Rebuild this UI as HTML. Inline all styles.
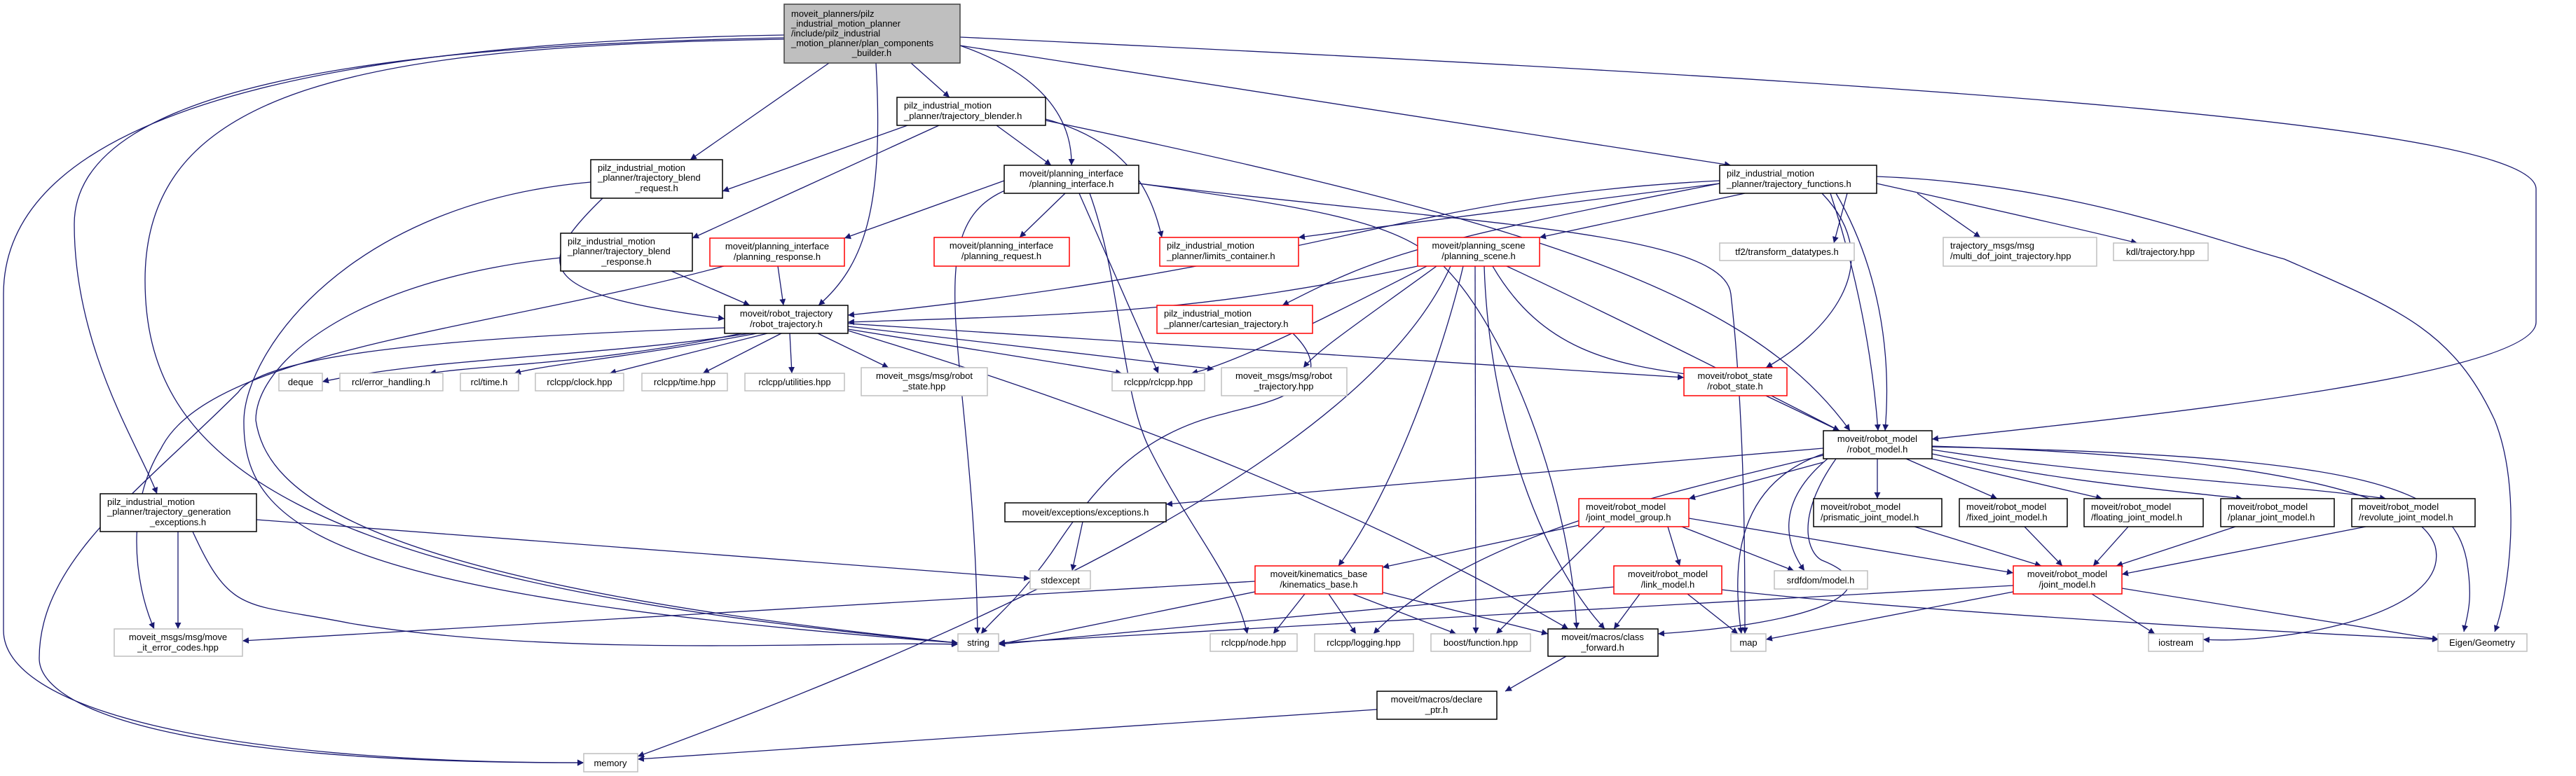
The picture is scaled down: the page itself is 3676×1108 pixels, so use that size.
<!DOCTYPE html>
<html><head><meta charset="utf-8"><style>
html,body{margin:0;padding:0;background:#fff;}
svg{display:block;}
text{font-family:"Liberation Sans",sans-serif;font-size:13px;fill:#000;}
.e{fill:none;stroke:#191970;stroke-width:1.3;}
.nb{fill:#fff;stroke:#000;stroke-width:1.5;}
.nr{fill:#fff;stroke:#ff0000;stroke-width:1.5;}
.ng{fill:#fff;stroke:#bfbfbf;stroke-width:1.5;}
.nroot{fill:#bfbfbf;stroke:#404040;stroke-width:1.5;}
</style></head><body>
<svg width="3676" height="1108" viewBox="0 0 3676 1108" xmlns="http://www.w3.org/2000/svg">
<defs><marker id="a" viewBox="0 0 10 10" refX="10" refY="5" markerWidth="9" markerHeight="9" markerUnits="userSpaceOnUse" orient="auto"><path d="M0,0 L10,5 L0,10 z" fill="#191970"/></marker></defs>
<g class="e" marker-end="url(#a)">
<path d="M1119,50 C500,60 5,150 5,420 L5,900 C5,1010 300,1089 833,1089"/>
<path d="M1119,54 C600,64 106,110 106,320 C106,500 200,640 224,705"/>
<path d="M1119,56 C500,66 207,130 207,400 C207,650 400,830 1367,918"/>
<path d="M1183,90 L985,228"/>
<path d="M1250,90 C1262,300 1232,380 1168,436"/>
<path d="M1300,90 L1355,139"/>
<path d="M1370,65 C1500,110 1530,180 1529,236"/>
<path d="M1370,65 L2470,236"/>
<path d="M1370,53 C2800,120 3619,180 3619,270 L3619,460 C3619,540 3000,600 2757,627"/>
<path d="M1295,179 L1031,273"/>
<path d="M1340,179 L988,340"/>
<path d="M1422,179 L1500,236"/>
<path d="M1492,170 C1600,200 1640,260 1658,339"/>
<path d="M1492,172 C2200,320 2500,420 2640,615"/>
<path d="M860,283 C760,380 760,420 1034,455"/>
<path d="M843,260 C500,290 350,500 348,600 C346,760 480,850 1367,918"/>
<path d="M958,387 L1070,436"/>
<path d="M800,368 C500,400 365,520 365,600 C380,700 500,830 1367,918"/>
<path d="M1033,380 C700,470 300,500 230,640 C180,720 190,830 220,898"/>
<path d="M1110,380 L1118,436"/>
<path d="M1433,258 L1205,340"/>
<path d="M1520,276 L1455,339"/>
<path d="M1444,268 C1300,320 1390,500 1395,905"/>
<path d="M1540,276 L1653,533"/>
<path d="M1555,276 C1600,400 1600,560 1640,640 C1700,760 1760,820 1780,905"/>
<path d="M1625,262 C2100,320 2460,330 2470,420 C2490,600 2490,800 2490,905"/>
<path d="M1625,262 C1900,300 2000,320 2060,380 C2150,470 2240,700 2250,898"/>
<path d="M2454,262 L1853,339"/>
<path d="M2454,258 C2000,280 1900,380 1210,450"/>
<path d="M2454,262 C2000,350 1960,370 1830,436"/>
<path d="M2490,276 L2197,339"/>
<path d="M2636,276 L2617,347"/>
<path d="M2736,276 L2826,339"/>
<path d="M2678,262 C2850,300 2980,330 3050,347"/>
<path d="M2678,252 C2950,262 3150,340 3260,370 C3420,440 3500,470 3560,600 C3600,700 3580,850 3560,902"/>
<path d="M2600,276 C2700,380 2600,480 2520,525"/>
<path d="M2620,276 C2680,380 2700,500 2690,615"/>
<path d="M2612,276 C2640,360 2670,480 2680,615"/>
<path d="M2023,380 C1700,450 1500,450 1210,460"/>
<path d="M2036,380 C1900,450 1760,520 1700,533"/>
<path d="M2050,380 C1940,460 1880,500 1860,525"/>
<path d="M2088,380 C2060,500 1990,700 1910,808"/>
<path d="M2105,380 L2106,905"/>
<path d="M2118,380 C2125,600 2200,800 2290,898"/>
<path d="M2130,380 C2200,500 2300,520 2420,536"/>
<path d="M2150,380 C2300,450 2500,550 2625,615"/>
<path d="M2070,380 C1950,650 1400,900 910,1080"/>
<path d="M1845,476 C1930,560 1780,580 1750,590 C1620,620 1560,700 1500,790 C1450,860 1420,880 1400,905"/>
<path d="M1070,476 C850,510 620,510 460,545"/>
<path d="M1058,476 C850,520 700,520 613,533"/>
<path d="M1080,476 C900,510 780,520 734,533"/>
<path d="M1095,476 L870,533"/>
<path d="M1115,476 L1003,533"/>
<path d="M1127,476 L1130,533"/>
<path d="M1167,476 L1268,525"/>
<path d="M1210,470 L1601,533"/>
<path d="M1210,466 L1732,527"/>
<path d="M1210,462 L2403,539"/>
<path d="M1210,472 C1500,560 1900,700 2238,898"/>
<path d="M1034,468 C700,480 380,500 340,560 C200,700 56,800 56,940 C56,1000 200,1090 833,1089"/>
<path d="M2520,565 L2625,615"/>
<path d="M2679,655 L2679,712"/>
<path d="M2720,655 L2850,712"/>
<path d="M2757,655 L3000,712"/>
<path d="M2757,648 C2950,690 3100,700 3200,712"/>
<path d="M2757,642 C3000,680 3250,690 3405,712"/>
<path d="M2757,637 C3200,650 3450,700 3475,780 C3500,880 3250,920 3144,913"/>
<path d="M2757,638 C3400,650 3500,700 3520,800 C3530,860 3520,880 3516,902"/>
<path d="M2602,640 L1664,720"/>
<path d="M2602,660 L2410,712"/>
<path d="M2608,655 C2530,720 2550,780 2575,815"/>
<path d="M2620,655 C2560,740 2580,790 2600,800 C2700,840 2600,890 2366,905"/>
<path d="M2602,650 C2400,700 2100,760 1960,905"/>
<path d="M2602,648 C2480,690 2470,800 2485,905"/>
<path d="M2253,750 L1973,810"/>
<path d="M2290,752 L2135,905"/>
<path d="M2380,752 L2397,808"/>
<path d="M2400,752 L2560,815"/>
<path d="M2410,740 L2873,818"/>
<path d="M2732,752 L2913,808"/>
<path d="M2889,752 L2943,808"/>
<path d="M3037,752 L2987,808"/>
<path d="M3190,752 L3020,808"/>
<path d="M3376,752 L3028,820"/>
<path d="M2873,836 L1425,918"/>
<path d="M2873,845 L2520,913"/>
<path d="M2985,848 L3075,905"/>
<path d="M3028,840 L3480,913"/>
<path d="M2303,838 L1425,920"/>
<path d="M2340,848 L2303,898"/>
<path d="M2408,848 L2480,905"/>
<path d="M2457,842 C2700,870 3200,900 3480,913"/>
<path d="M1791,830 L346,915"/>
<path d="M1791,845 L1425,920"/>
<path d="M1862,848 L1817,905"/>
<path d="M1896,848 L1935,905"/>
<path d="M1930,848 L2078,905"/>
<path d="M1970,845 L2209,905"/>
<path d="M1545,745 L1530,815"/>
<path d="M254,759 L254,898"/>
<path d="M366,742 L1470,826"/>
<path d="M275,759 C330,880 350,860 500,890 C800,940 1200,915 1367,920"/>
<path d="M2235,937 L2148,987"/>
<path d="M1965,1013 L910,1084"/>
</g>
<g>
<rect class="nroot" x="1119" y="6" width="251" height="84"/>
<text x="1129" y="24">moveit_planners/pilz</text><text x="1129" y="38">_industrial_motion_planner</text><text x="1129" y="52">/include/pilz_industrial</text><text x="1129" y="66">_motion_planner/plan_components</text><text x="1244" y="80" text-anchor="middle">_builder.h</text>

<rect class="nb" x="1280" y="139" width="212" height="40"/>
<text x="1290" y="155">pilz_industrial_motion</text><text x="1290" y="170">_planner/trajectory_blender.h</text>

<rect class="nb" x="843" y="228" width="188" height="55"/>
<text x="853" y="244">pilz_industrial_motion</text><text x="853" y="258">_planner/trajectory_blend</text><text x="937" y="273" text-anchor="middle">_request.h</text>

<rect class="nb" x="1433" y="236" width="192" height="40"/>
<text x="1529" y="252" text-anchor="middle">moveit/planning_interface</text><text x="1529" y="267" text-anchor="middle">/planning_interface.h</text>

<rect class="nb" x="2454" y="236" width="224" height="40"/>
<text x="2464" y="252">pilz_industrial_motion</text><text x="2464" y="267">_planner/trajectory_functions.h</text>

<rect class="nb" x="800" y="333" width="188" height="54"/>
<text x="810" y="349">pilz_industrial_motion</text><text x="810" y="363">_planner/trajectory_blend</text><text x="894" y="378" text-anchor="middle">_response.h</text>

<rect class="nr" x="1013" y="340" width="192" height="40"/>
<text x="1109" y="356" text-anchor="middle">moveit/planning_interface</text><text x="1109" y="371" text-anchor="middle">/planning_response.h</text>

<rect class="nr" x="1333" y="339" width="193" height="41"/>
<text x="1429" y="355" text-anchor="middle">moveit/planning_interface</text><text x="1429" y="370" text-anchor="middle">/planning_request.h</text>

<rect class="nr" x="1655" y="339" width="198" height="41"/>
<text x="1665" y="355">pilz_industrial_motion</text><text x="1665" y="370">_planner/limits_container.h</text>

<rect class="nr" x="2023" y="339" width="174" height="41"/>
<text x="2110" y="355" text-anchor="middle">moveit/planning_scene</text><text x="2110" y="370" text-anchor="middle">/planning_scene.h</text>

<rect class="ng" x="2454" y="347" width="192" height="25"/>
<text x="2550" y="364" text-anchor="middle">tf2/transform_datatypes.h</text>

<rect class="ng" x="2773" y="339" width="219" height="41"/>
<text x="2783" y="355">trajectory_msgs/msg</text><text x="2783" y="370">/multi_dof_joint_trajectory.hpp</text>

<rect class="ng" x="3016" y="347" width="135" height="25"/>
<text x="3083" y="364" text-anchor="middle">kdl/trajectory.hpp</text>

<rect class="nb" x="1034" y="436" width="176" height="40"/>
<text x="1122" y="452" text-anchor="middle">moveit/robot_trajectory</text><text x="1122" y="467" text-anchor="middle">/robot_trajectory.h</text>

<rect class="nr" x="1651" y="436" width="222" height="40"/>
<text x="1661" y="452">pilz_industrial_motion</text><text x="1661" y="467">_planner/cartesian_trajectory.h</text>

<rect class="ng" x="398" y="533" width="62" height="25"/><text x="429" y="550" text-anchor="middle">deque</text>
<rect class="ng" x="485" y="533" width="147" height="25"/><text x="558" y="550" text-anchor="middle">rcl/error_handling.h</text>
<rect class="ng" x="657" y="533" width="83" height="25"/><text x="698" y="550" text-anchor="middle">rcl/time.h</text>
<rect class="ng" x="764" y="533" width="126" height="25"/><text x="827" y="550" text-anchor="middle">rclcpp/clock.hpp</text>
<rect class="ng" x="916" y="533" width="122" height="25"/><text x="977" y="550" text-anchor="middle">rclcpp/time.hpp</text>
<rect class="ng" x="1063" y="533" width="142" height="25"/><text x="1134" y="550" text-anchor="middle">rclcpp/utilities.hpp</text>

<rect class="ng" x="1229" y="525" width="180" height="40"/>
<text x="1319" y="541" text-anchor="middle">moveit_msgs/msg/robot</text><text x="1319" y="556" text-anchor="middle">_state.hpp</text>

<rect class="ng" x="1587" y="533" width="132" height="25"/><text x="1653" y="550" text-anchor="middle">rclcpp/rclcpp.hpp</text>

<rect class="ng" x="1743" y="525" width="179" height="40"/>
<text x="1832" y="541" text-anchor="middle">moveit_msgs/msg/robot</text><text x="1832" y="556" text-anchor="middle">_trajectory.hpp</text>

<rect class="nr" x="2403" y="525" width="147" height="40"/>
<text x="2476" y="541" text-anchor="middle">moveit/robot_state</text><text x="2476" y="556" text-anchor="middle">/robot_state.h</text>

<rect class="nb" x="2602" y="615" width="155" height="40"/>
<text x="2679" y="631" text-anchor="middle">moveit/robot_model</text><text x="2679" y="646" text-anchor="middle">/robot_model.h</text>

<rect class="nb" x="143" y="705" width="223" height="54"/>
<text x="153" y="721">pilz_industrial_motion</text><text x="153" y="735">_planner/trajectory_generation</text><text x="254" y="750" text-anchor="middle">_exceptions.h</text>

<rect class="nb" x="1434" y="718" width="230" height="27"/>
<text x="1549" y="736" text-anchor="middle">moveit/exceptions/exceptions.h</text>

<rect class="nr" x="2253" y="712" width="157" height="40"/>
<text x="2263" y="728">moveit/robot_model</text><text x="2263" y="743">/joint_model_group.h</text>

<rect class="nb" x="2588" y="712" width="183" height="40"/>
<text x="2598" y="728">moveit/robot_model</text><text x="2598" y="743">/prismatic_joint_model.h</text>
<rect class="nb" x="2796" y="712" width="154" height="40"/>
<text x="2806" y="728">moveit/robot_model</text><text x="2806" y="743">/fixed_joint_model.h</text>
<rect class="nb" x="2974" y="712" width="170" height="40"/>
<text x="2984" y="728">moveit/robot_model</text><text x="2984" y="743">/floating_joint_model.h</text>
<rect class="nb" x="3169" y="712" width="162" height="40"/>
<text x="3179" y="728">moveit/robot_model</text><text x="3179" y="743">/planar_joint_model.h</text>
<rect class="nb" x="3356" y="712" width="176" height="40"/>
<text x="3366" y="728">moveit/robot_model</text><text x="3366" y="743">/revolute_joint_model.h</text>

<rect class="ng" x="1470" y="815" width="86" height="26"/><text x="1513" y="833" text-anchor="middle">stdexcept</text>

<rect class="nr" x="1791" y="808" width="182" height="40"/>
<text x="1882" y="824" text-anchor="middle">moveit/kinematics_base</text><text x="1882" y="839" text-anchor="middle">/kinematics_base.h</text>

<rect class="nr" x="2303" y="808" width="154" height="40"/>
<text x="2380" y="824" text-anchor="middle">moveit/robot_model</text><text x="2380" y="839" text-anchor="middle">/link_model.h</text>

<rect class="ng" x="2532" y="815" width="133" height="26"/><text x="2598" y="833" text-anchor="middle">srdfdom/model.h</text>

<rect class="nr" x="2873" y="808" width="155" height="40"/>
<text x="2950" y="824" text-anchor="middle">moveit/robot_model</text><text x="2950" y="839" text-anchor="middle">/joint_model.h</text>

<rect class="ng" x="163" y="898" width="183" height="39"/>
<text x="254" y="914" text-anchor="middle">moveit_msgs/msg/move</text><text x="254" y="929" text-anchor="middle">_it_error_codes.hpp</text>

<rect class="ng" x="1367" y="905" width="58" height="25"/><text x="1396" y="922" text-anchor="middle">string</text>
<rect class="ng" x="1727" y="905" width="124" height="25"/><text x="1789" y="922" text-anchor="middle">rclcpp/node.hpp</text>
<rect class="ng" x="1876" y="905" width="141" height="25"/><text x="1946" y="922" text-anchor="middle">rclcpp/logging.hpp</text>
<rect class="ng" x="2042" y="905" width="142" height="25"/><text x="2113" y="922" text-anchor="middle">boost/function.hpp</text>

<rect class="nb" x="2209" y="898" width="157" height="39"/>
<text x="2287" y="914" text-anchor="middle">moveit/macros/class</text><text x="2287" y="929" text-anchor="middle">_forward.h</text>

<rect class="ng" x="2470" y="905" width="50" height="25"/><text x="2495" y="922" text-anchor="middle">map</text>
<rect class="ng" x="3066" y="905" width="78" height="25"/><text x="3105" y="922" text-anchor="middle">iostream</text>
<rect class="ng" x="3479" y="905" width="127" height="25"/><text x="3542" y="922" text-anchor="middle">Eigen/Geometry</text>

<rect class="nb" x="1965" y="987" width="171" height="40"/>
<text x="2050" y="1003" text-anchor="middle">moveit/macros/declare</text><text x="2050" y="1018" text-anchor="middle">_ptr.h</text>

<rect class="ng" x="833" y="1076" width="77" height="26"/><text x="871" y="1094" text-anchor="middle">memory</text>
</g>
</svg>
</body></html>
